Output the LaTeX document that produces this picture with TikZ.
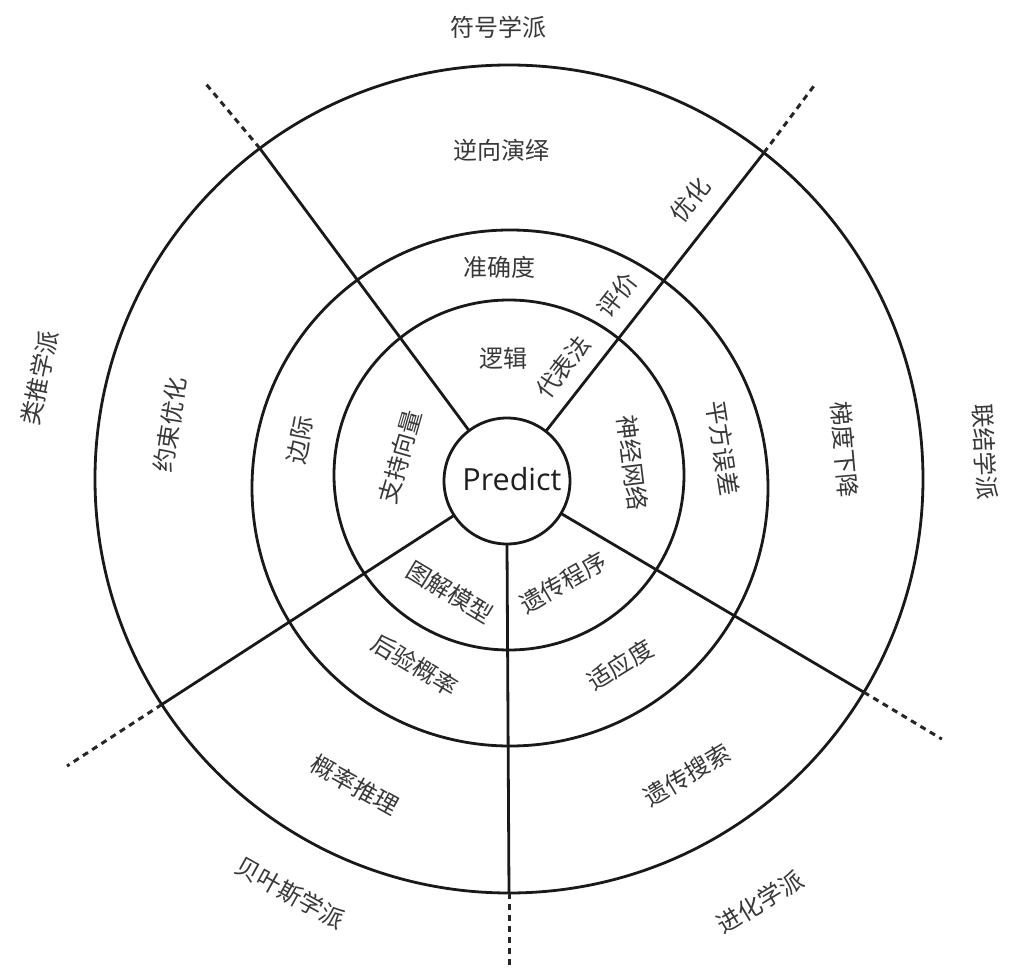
\documentclass[tikz,border=0pt]{standalone}
\usepackage{fontspec}
\setmainfont{Open Sans}
\newfontfamily\cjk{Noto Sans CJK SC}
\begin{document}
\begin{tikzpicture}[x=1pt,y=1pt,
  ring/.style={circle,draw=black!90,line width=2.8pt,inner sep=0pt,outer sep=0pt},
  spoke/.style={draw=black!90,line width=2.8pt},
  dashspoke/.style={draw=black!85,line width=3pt,dash pattern=on 6pt off 5pt},
  lab/.style={text=black!78,font=\cjk\fontsize{24}{24}\selectfont,inner sep=0pt}]
\useasboundingbox[fill=white] (-509,-490) rectangle (502,479);
% rings
\node[ring,minimum size=828pt] (C4) at (0,0) {};
\node[ring,minimum size=516pt] (C3) at (1,-9) {};
\node[ring,minimum size=350pt] (C2) at (0,4) {};
\node[ring,minimum size=126pt,fill=white] (P) at (-2,-2) {};
\node[text=black!88,font=\fontsize{30.5}{30.5}\selectfont,inner sep=0pt] (Pt) at (3,0) {Predict};
% dashed ends
\coordinate (d1) at (127.5:500);
\coordinate (d2) at (52.2:497);
\coordinate (d3) at (-31:505);
\coordinate (d4) at (-90:490);
\coordinate (d5) at (213:527);
% spokes
\draw[spoke] (P.127.5) -- (C4.127.5);
\draw[spoke] (P.52.2) -- (C4.52.2);
\draw[spoke] (P.-31) -- (C4.-31);
\draw[spoke] (P.-90) -- (C4.-90);
\draw[spoke] (P.213) -- (C4.213);
\draw[dashspoke] (C4.127.5) -- (d1);
\draw[dashspoke] (C4.52.2) -- (d2);
\draw[dashspoke] (C4.-31) -- (d3);
\draw[dashspoke] (C4.-90) -- (d4);
\draw[dashspoke] (C4.213) -- (d5);
% top
\node[lab] (t1) at (-11,452) {符号学派};
\node[lab] (t2) at (-8,329) {逆向演绎};
\node[lab] (t3) at (-10,212) {准确度};
\node[lab] (t4) at (-6,121) {逻辑};
\node[lab,rotate=52] (t5) at (54,112) {代表法};
\node[lab,rotate=52] (t6) at (108,184) {评价};
\node[lab,rotate=52] (t7) at (181,279) {优化};
% right
\node[lab,rotate=-83] (r1) at (124,16) {神经网络};
\node[lab,rotate=-81] (r2) at (214,31) {平方误差};
\node[lab,rotate=-85] (r3) at (336,29) {梯度下降};
\node[lab,rotate=-87] (r4) at (476,27) {联结学派};
% bottom right
\node[lab,rotate=30] (b1) at (54,-104) {遗传程序};
\node[lab,rotate=32] (b2) at (111,-186) {适应度};
\node[lab,rotate=31] (b3) at (178,-296) {遗传搜索};
\node[lab,rotate=31] (b4) at (251,-423) {进化学派};
% bottom left
\node[lab,rotate=-31] (c1) at (-59,-113) {图解模型};
\node[lab,rotate=-31] (c2) at (-94,-186) {后验概率};
\node[lab,rotate=-29] (c3) at (-154,-306) {概率推理};
\node[lab,rotate=-29] (c4) at (-219,-414) {贝叶斯学派};
% left
\node[lab,rotate=74] (l1) at (-109,22) {支持向量};
\node[lab,rotate=79] (l2) at (-209,39) {边际};
\node[lab,rotate=81] (l3) at (-339,54) {约束优化};
\node[lab,rotate=78] (l4) at (-469,101) {类推学派};
\end{tikzpicture}
\end{document}
